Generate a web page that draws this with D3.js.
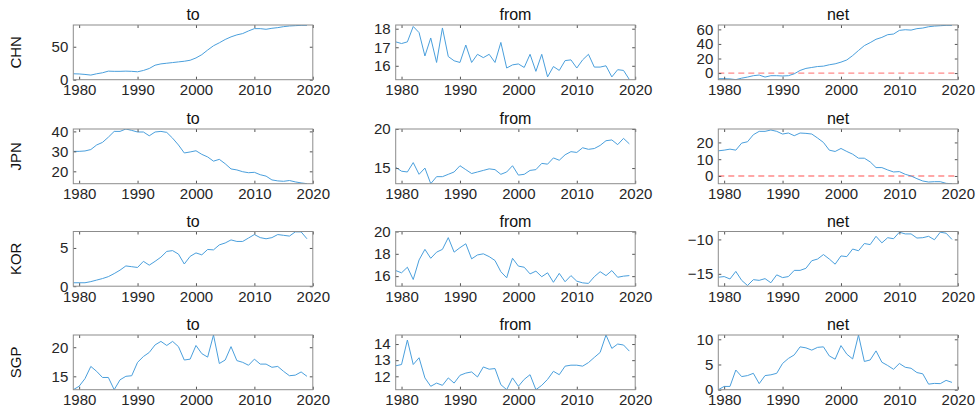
<!DOCTYPE html>
<html>
<head>
<meta charset="utf-8">
<script src="https://cdn.jsdelivr.net/npm/d3@7"></script>
<style>
  body { margin: 0; background: #fff; }
  svg { font-family: "Liberation Sans", Arial, sans-serif; }
  .title { fill: #111; font-size: 16px; }
  .rowlabel { fill: #111; font-size: 15px; }
</style>
</head>
<body>
<div id="chart"></div>
<script>
// years 1979..2019
var years = d3.range(1979, 2020);
var countries = ["CHN", "JPN", "KOR", "SGP"];
var kinds = ["to", "from", "net"];

var chnTo = [9, 8.7, 8, 7, 9, 10.5, 13, 12.7, 12.7, 13, 12.7, 12, 14, 17, 22, 24, 25, 26, 27, 28, 29.5,
  33, 38, 45, 51.5, 56, 61, 65, 68, 70, 74, 77.5, 77.5, 76.5, 78, 79, 80.5, 81.5, 82, 82.5, 82.5];
var chnFrom = [17.29, 17.2, 17.29, 18.12, 17.79, 16.53, 17.5, 16.18, 18.04, 16.5, 16.27, 16.18, 17.12, 16.18,
  16.62, 16.44, 16.62, 16.18, 17.26, 15.88, 16.05, 16.1, 15.91, 16.62, 15.7, 16.62, 15.4, 15.96, 15.75,
  16.28, 16.32, 15.88, 16.32, 16.62, 15.93, 15.93, 16.0, 15.4, 15.79, 15.75, 15.26];
var chnNet = [-7.7, -7.7, -8, -9, -7, -5.5, -3.6, -2.7, -5.5, -3.6, -3.6, -4, -3.6, -1, 3.6, 6.4, 7.7, 9, 9.5,
  11.4, 12.7, 15, 18, 24, 31, 37.7, 41.8, 46.4, 49, 52.7, 53.6, 58.6, 59.5, 59, 61, 61.8, 63.6, 64.5, 65, 65.5, 65.5];

var jpnTo = [30, 30, 30.2, 30.9, 33.2, 34.5, 37.1, 40, 40, 41.2, 40.5, 39.7, 39.7, 37.8, 39.7, 40, 39.5, 36.6,
  33.2, 29.2, 29.7, 30.3, 28.5, 27.2, 25.1, 26, 23.8, 21.2, 20.7, 19.8, 19.3, 19.5, 18.3, 17.6, 15.7, 15.2,
  15, 15.4, 14.7, 14.2, 13.8];
var jpnFrom = [15.1, 14.6, 14.5, 15.7, 14.2, 15, 13, 13.9, 13.9, 14.2, 14.5, 15.3, 14.8, 14.3, 14.5, 14.7, 14.9,
  14.8, 14.2, 14.5, 15.3, 14.1, 14.2, 14.7, 14.8, 15.6, 15.5, 16.3, 16, 16.7, 17.1, 17, 17.6, 17.4, 17.5,
  17.9, 18.5, 18.6, 18, 18.8, 18.1];
var jpnNet = [15, 15.4, 16, 15.4, 19.6, 20.4, 24.6, 26.6, 26.6, 27.4, 26.6, 25, 25.6, 24, 25.6, 25.4, 25, 22.6,
  20, 15.4, 14.6, 16.4, 14.6, 13, 10.6, 10.6, 8.4, 5, 5, 3.6, 2.4, 2.6, 1, 0, -1.6, -3, -3.6, -3.4, -3.4, -4.4, -4.6];

var korTo = [0.45, 0.45, 0.45, 0.6, 0.8, 1.0, 1.25, 1.65, 2.1, 2.65, 2.55, 2.45, 3.25, 2.75, 3.25, 3.8, 4.55,
  4.65, 4.2, 2.9, 3.9, 4.35, 4.1, 4.8, 4.75, 5.4, 5.65, 6.05, 5.85, 5.85, 6.3, 6.75, 6.35, 6.2, 6.35, 6.75,
  6.65, 6.55, 7.1, 7.1, 6.2];
var korFrom = [16.5, 16.3, 16.8, 15.7, 17.45, 18.4, 17.6, 18.15, 18.4, 19.45, 18.15, 18.55, 18.9, 17.55, 17.9,
  18.0, 17.75, 17.4, 16.4, 15.85, 17.6, 16.9, 16.8, 16.2, 16.45, 15.95, 16.3, 15.45, 16.25, 15.5, 16.05,
  15.55, 15.4, 15.35, 15.95, 16.4, 16.05, 16.5, 15.9, 16.0, 16.05];
var korNet = [-15.5, -15.4, -15.75, -14.65, -15.95, -16.7, -15.85, -15.95, -15.7, -16.3, -15.15, -15.55, -15.4,
  -14.5, -14.5, -14.2, -13.1, -12.85, -12.2, -12.85, -13.6, -12.4, -12.5, -11.4, -11.65, -10.6, -10.75, -9.55,
  -10.5, -9.75, -9.9, -8.95, -9.2, -9.2, -9.8, -9.75, -9.55, -10.05, -8.95, -9.1, -10];

var sgpTo = [12.7, 13.3, 14.6, 16.7, 15.85, 14.8, 14.8, 12.7, 14.4, 15, 15.1, 17.4, 18.4, 19.1, 20.4, 21, 20.3,
  21, 20.1, 17.8, 17.95, 20.3, 18.9, 18.3, 22.1, 17.2, 17.8, 20.1, 17.7, 17.4, 16.9, 17.95, 17.1, 17.1, 16.55,
  16.7, 15.85, 15.1, 15.2, 15.75, 15];
var sgpFrom = [12.65, 12.73, 14.25, 12.73, 13.15, 11.9, 11.38, 11.58, 11.44, 11.9, 11.58, 12.06, 12.2, 12.27,
  11.96, 12.58, 12.44, 12.48, 11.48, 11.17, 11.9, 11.38, 11.81, 12.1, 11.17, 11.44, 11.81, 12.31, 12.1, 12.63,
  12.69, 12.69, 12.63, 12.85, 13.17, 13.48, 14.56, 13.73, 14.0, 13.94, 13.56];
var sgpNet = [0, 0.65, 0.65, 3.9, 2.6, 2.8, 3.25, 1.2, 2.8, 2.95, 3.25, 5.2, 6.2, 6.9, 8.5, 8.3, 7.85, 8.4, 8.5,
  6.7, 6.05, 8.75, 7.05, 6.1, 10.85, 5.6, 5.9, 7.7, 5.45, 4.8, 4.05, 5.2, 4.45, 4.25, 3.4, 3.15, 1.1, 1.25,
  1.2, 1.85, 1.45];

// y limits and y ticks per panel (row = country, column = to/from/net)
var yLimits = [
  [[0, 83], [15.25, 18.2], [-9.1, 66]],
  [[13.8, 41.2], [13, 20], [-4.6, 28]],
  [[0, 7.15], [15.1, 20], [-16.8, -8.85]],
  [[12.7, 22.1], [11.17, 14.56], [0, 10.85]]
];
var yTicks = [
  [[0, 50], [16, 17, 18], [0, 20, 40, 60]],
  [[20, 30, 40], [15, 20], [0, 10, 20]],
  [[0, 5], [16, 18, 20], [-15, -10]],
  [[15, 20], [12, 13, 14], [0, 5, 10]]
];
var xTicks = [1980, 1990, 2000, 2010, 2020];
var xLimits = [1979, 2020];

var series = [
  [chnTo, chnFrom, chnNet],
  [jpnTo, jpnFrom, jpnNet],
  [korTo, korFrom, korNet],
  [sgpTo, sgpFrom, sgpNet]
];

var W = 977, H = 411;
var colLeft = [73.3, 395.7, 718.3], boxW = 239.5;
var rowTop = [25, 129, 231.5, 335], boxH = 54.7;

var svg = d3.select('#chart').append('svg')
  .attr('width', W)
  .attr('height', H);

countries.forEach(function (c, r) {
  svg.append('text')
    .attr('class', 'rowlabel')
    .attr('transform', 'translate(20.5,' + (rowTop[r] + boxH / 2) + ') rotate(-90)')
    .attr('text-anchor', 'middle')
    .text(c);

  kinds.forEach(function (k, ci) {
    var g = svg.append('g')
      .attr('transform', 'translate(' + colLeft[ci] + ',' + rowTop[r] + ')');

    var x = d3.scaleLinear().domain(xLimits).range([0, boxW]);
    var y = d3.scaleLinear().domain(yLimits[r][ci]).range([boxH, 0]);

    var clipId = 'clip-' + r + '-' + ci;
    g.append('clipPath').attr('id', clipId)
      .append('rect').attr('width', boxW).attr('height', boxH);

    // zero reference line on net panels
    if (k === 'net' && y.domain()[0] < 0 && y.domain()[1] > 0) {
      g.append('line')
        .attr('x1', 0).attr('x2', boxW)
        .attr('y1', y(0)).attr('y2', y(0))
        .attr('stroke', '#ff8a8a')
        .attr('stroke-width', 1.3)
        .attr('stroke-dasharray', '6,4');
    }

    var line = d3.line()
      .x(function (d, i) { return x(years[i]); })
      .y(function (d) { return y(d); });

    g.append('path')
      .datum(series[r][ci])
      .attr('clip-path', 'url(#' + clipId + ')')
      .attr('fill', 'none')
      .attr('stroke', '#4a9fdc')
      .attr('stroke-width', 1)
      .attr('d', line);

    // axes (ticks pointing inward, box on)
    var xb = g.append('g').attr('transform', 'translate(0,' + boxH + ')')
      .call(d3.axisBottom(x).tickValues(xTicks).tickFormat(d3.format('d')).tickSizeInner(-3).tickSizeOuter(0).tickPadding(5));
    var xt = g.append('g')
      .call(d3.axisTop(x).tickValues(xTicks).tickFormat('').tickSizeInner(-3).tickSizeOuter(0));
    var yl = g.append('g')
      .call(d3.axisLeft(y).tickValues(yTicks[r][ci]).tickFormat(d3.format('d')).tickSizeInner(-3).tickSizeOuter(0).tickPadding(5));
    var yr = g.append('g').attr('transform', 'translate(' + boxW + ',0)')
      .call(d3.axisRight(y).tickValues(yTicks[r][ci]).tickFormat('').tickSizeInner(-3).tickSizeOuter(0));

    [xb, xt, yl, yr].forEach(function (a) {
      a.attr('font-family', null).attr('font-size', null);
      a.select('.domain').remove();
      a.selectAll('.tick line').attr('stroke', '#555');
      a.selectAll('.tick text').style('font-size', '15px').attr('fill', '#262626');
    });

    g.append('rect')
      .attr('width', boxW).attr('height', boxH)
      .attr('fill', 'none')
      .attr('stroke', '#8c8c8c')
      .attr('stroke-width', 1);

    g.append('text')
      .attr('class', 'title')
      .attr('x', boxW / 2)
      .attr('y', -5)
      .attr('text-anchor', 'middle')
      .text(k);
  });
});
</script>
</body>
</html>
